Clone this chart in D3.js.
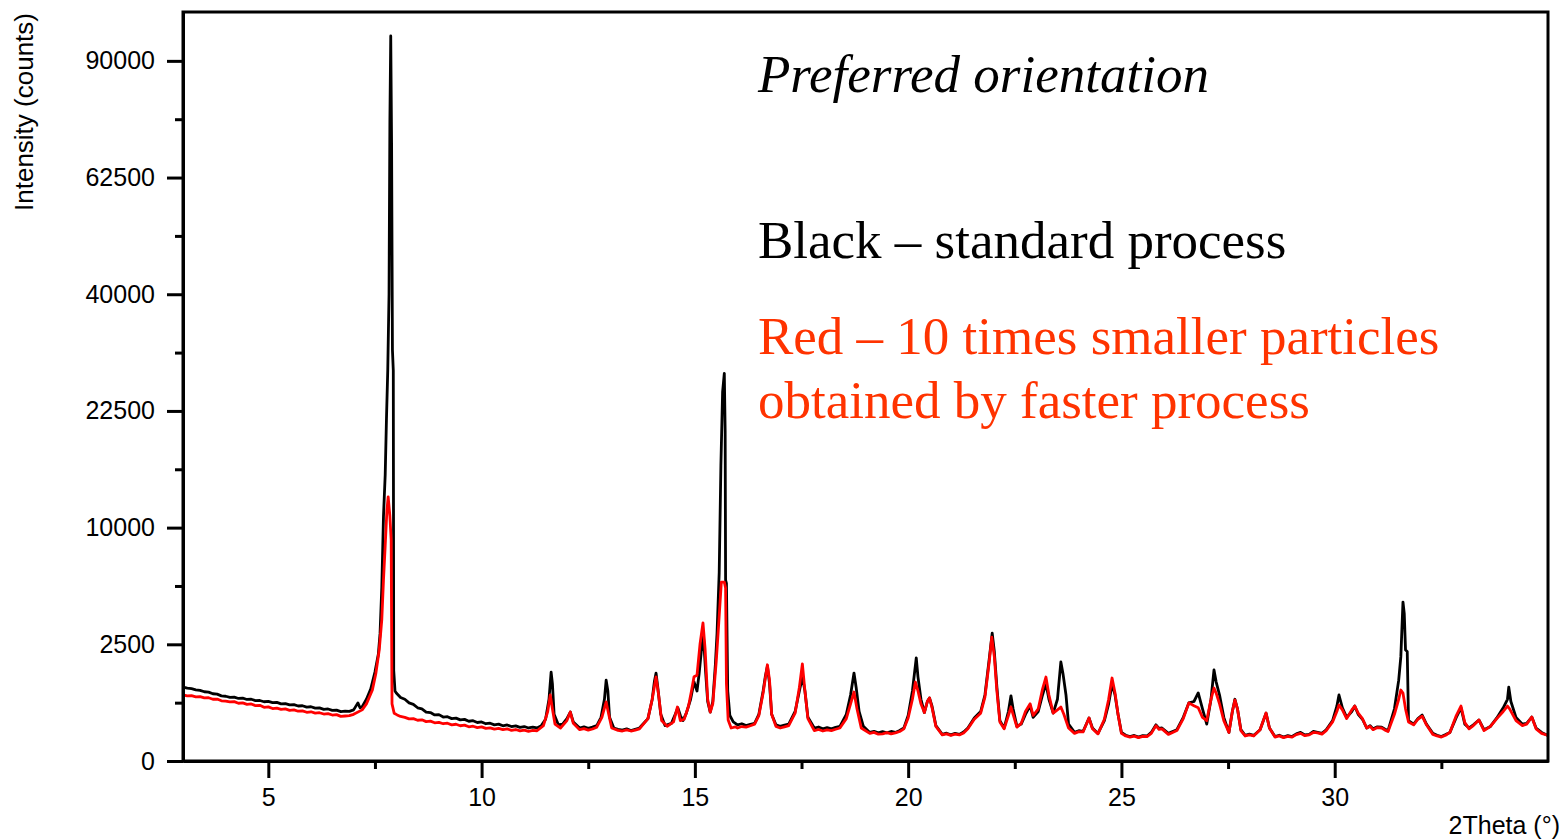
<!DOCTYPE html>
<html>
<head>
<meta charset="utf-8">
<script src="https://cdn.jsdelivr.net/npm/d3@7"></script>
<style>
  body { margin: 0; background: #fff; }
  .axis text { font-family: "Liberation Sans", Arial, sans-serif; font-size: 25px; fill: #000; }
  .axis path, .axis line { stroke: #000; stroke-width: 3; }
</style>
</head>
<body>
<div class="chartD3"></div>
<script>
// x-ray scan, [2theta, counts]
const blackScan = [
  [3.0,1005],[3.1,975],[3.2,960],[3.3,930],[3.4,915],[3.5,880],[3.6,870],[3.7,830],[3.8,820],[3.9,780],
  [4.0,770],[4.1,745],[4.2,750],[4.3,718],[4.4,725],[4.5,695],[4.6,700],[4.7,668],[4.8,672],[4.9,645],
  [5.0,652],[5.1,625],[5.2,632],[5.3,600],[5.4,606],[5.5,578],[5.6,585],[5.7,555],[5.8,560],[5.9,532],
  [6.0,540],[6.1,512],[6.2,518],[6.3,490],[6.4,497],[6.5,470],[6.6,475],[6.7,448],[6.8,455],[6.9,452],
  [7.0,480],[7.1,620],[7.15,520],[7.2,540],[7.3,700],[7.4,950],[7.5,1450],[7.58,2100],[7.62,3000],[7.66,5500],
  [7.70,11000],[7.74,15000],[7.77,21500],[7.80,28000],[7.83,40000],[7.85,75000],[7.87,96500],[7.89,70000],[7.91,31000],[7.93,28000],
  [7.94,1500],[7.97,900],[8.0,850],[8.1,740],[8.2,700],[8.3,620],[8.4,590],[8.5,520],[8.6,500],[8.7,440],
  [8.8,430],[8.9,390],[9.0,395],[9.1,355],[9.2,360],[9.3,330],[9.4,338],[9.5,310],[9.6,318],[9.7,290],
  [9.8,298],[9.9,272],[10.0,280],[10.1,255],[10.2,262],[10.3,240],[10.4,250],[10.5,228],[10.6,238],[10.7,218],
  [10.8,226],[10.9,208],[11.0,218],[11.1,200],[11.2,210],[11.3,200],[11.4,230],
  [11.5,320],[11.58,700],[11.63,1450],[11.66,1100],[11.70,400],[11.8,240],[11.9,250],[12.0,330],[12.08,440],[12.15,280],
  [12.3,200],[12.4,215],[12.5,195],[12.6,210],[12.7,230],[12.8,350],[12.88,700],[12.92,1200],[12.96,900],[13.0,350],[13.1,200],[13.2,185],[13.3,175],
  [13.4,190],[13.5,170],[13.6,185],[13.7,200],[13.9,330],[14.0,700],[14.05,1150],[14.09,1420],[14.13,1000],[14.2,400],[14.3,230],[14.45,260],
  [14.55,420],[14.6,520],[14.66,380],[14.72,300],[14.8,420],[14.9,700],[14.98,1150],[15.05,900],[15.1,1400],[15.15,2200],
  [15.2,2900],[15.25,1500],[15.3,650],[15.36,440],[15.42,650],[15.48,1700],[15.52,3000],[15.57,6500],[15.61,16000],[15.65,25000],
  [15.69,27600],[15.71,20000],[15.72,6000],[15.74,5800],[15.77,900],[15.82,380],[15.9,280],[16.0,240],[16.1,255],[16.2,230],[16.3,248],[16.4,260],
  [16.5,400],[16.6,900],[16.65,1300],[16.7,1650],[16.75,1100],[16.8,400],[16.9,240],[17.0,220],[17.1,238],[17.2,250],[17.35,450],
  [17.45,900],[17.52,1300],[17.58,900],[17.65,350],[17.8,200],[17.9,212],[18.0,190],[18.1,205],[18.2,190],[18.3,208],[18.4,220],[18.55,400],[18.65,800],
  [18.73,1420],[18.78,1000],[18.85,450],[18.95,220],[19.1,150],[19.2,162],[19.3,145],[19.4,158],[19.5,145],[19.6,160],[19.7,150],[19.8,170],[19.9,200],[20.0,380],[20.1,900],
  [20.19,1950],[20.23,1300],[20.3,700],[20.38,430],[20.45,650],[20.5,730],[20.56,550],[20.65,230],[20.8,130],[20.9,142],[21.0,125],
  [21.1,140],[21.2,130],[21.3,155],[21.4,200],[21.55,340],[21.7,450],[21.8,800],[21.9,1900],[21.97,3000],[22.02,2200],[22.08,1000],[22.15,300],
  [22.25,200],[22.35,450],[22.41,780],[22.46,500],[22.55,220],[22.65,250],[22.75,400],[22.86,560],[22.93,350],[23.05,450],
  [23.15,800],[23.23,1100],[23.3,700],[23.4,420],[23.5,700],[23.58,1800],[23.63,1400],[23.7,800],[23.76,250],[23.9,150],
  [24.0,168],[24.1,160],[24.24,340],[24.32,200],[24.45,140],[24.6,300],[24.7,600],[24.78,1080],[24.85,800],[24.92,400],[25.0,150],
  [25.1,122],[25.2,110],[25.3,120],[25.4,105],[25.5,118],[25.6,115],[25.7,150],[25.81,240],[25.88,195],[25.95,200],[26.1,140],[26.2,160],[26.3,180],[26.45,350],[26.58,620],[26.7,650],
  [26.8,850],[26.9,500],[27.0,250],[27.1,700],[27.17,1520],[27.22,1150],[27.3,800],[27.4,350],[27.52,150],[27.6,450],
  [27.66,700],[27.72,500],[27.8,180],[27.9,120],[28.0,132],[28.1,120],[28.25,180],[28.39,420],[28.47,200],[28.6,110],[28.7,122],[28.8,105],
  [28.9,118],[29.0,110],[29.1,135],[29.2,150],[29.3,125],[29.4,130],[29.5,160],[29.6,150],[29.7,140],[29.8,180],[29.95,300],[30.05,550],[30.1,800],[30.18,520],[30.28,350],
  [30.4,450],[30.47,555],[30.55,400],[30.65,320],[30.75,200],[30.83,230],[30.9,190],[31.0,215],[31.1,210],[31.18,185],[31.25,170],[31.4,500],[31.5,1200],
  [31.55,2000],[31.6,4640],[31.63,4000],[31.66,2260],[31.7,2200],[31.73,300],[31.85,250],[31.95,330],[32.05,388],[32.15,250],
  [32.3,140],[32.4,122],[32.5,110],[32.6,128],[32.7,150],[32.85,350],[32.96,520],[33.05,250],[33.15,200],[33.25,240],[33.38,309],[33.5,180],
  [33.65,220],[33.8,340],[33.95,520],[34.05,700],[34.08,1000],[34.13,650],[34.25,350],[34.4,250],[34.5,260],[34.62,355],
  [34.72,200],[34.85,150],[35.0,120]
]

const redScan = [
  [3.0,800],[3.1,780],[3.2,785],[3.3,755],[3.4,760],[3.5,730],[3.6,735],[3.7,700],[3.8,705],[3.9,665],
  [4.0,660],[4.1,640],[4.2,648],[4.3,612],[4.4,620],[4.5,590],[4.6,598],[4.7,562],[4.8,570],[4.9,530],
  [5.0,538],[5.1,505],[5.2,515],[5.3,490],[5.4,498],[5.5,470],[5.6,480],[5.7,455],[5.8,462],[5.9,436],
  [6.0,445],[6.1,420],[6.2,428],[6.3,405],[6.4,412],[6.5,388],[6.6,395],[6.7,365],[6.8,372],[6.9,378],
  [7.0,400],[7.2,480],[7.3,600],[7.44,925],[7.52,1400],[7.6,2260],[7.66,3650],[7.7,6000],[7.74,8500],[7.78,11500],
  [7.81,12800],[7.85,11000],[7.88,9000],[7.90,600],[7.95,420],[8.02,390],[8.1,365],[8.2,350],[8.3,325],[8.4,330],
  [8.5,305],[8.6,312],[8.7,285],[8.8,292],[8.9,268],[9.0,275],[9.1,255],[9.2,262],[9.3,240],[9.4,248],
  [9.5,228],[9.6,236],[9.7,215],[9.8,222],[9.9,205],[10.0,214],[10.1,195],[10.2,202],[10.3,186],[10.4,195],
  [10.5,180],[10.6,190],[10.7,172],[10.8,182],[10.9,166],[11.0,176],[11.1,162],[11.2,172],[11.3,168],
  [11.45,230],[11.55,450],[11.61,800],[11.66,500],
  [11.72,250],[11.85,200],[12.0,300],[12.08,440],[12.15,260],[12.3,180],[12.4,192],[12.5,175],[12.6,188],[12.7,210],[12.82,350],[12.92,640],
  [12.98,400],[13.05,200],[13.2,172],[13.3,165],[13.4,178],[13.5,165],[13.6,176],[13.7,190],[13.9,330],[14.0,700],[14.09,1300],[14.15,800],[14.22,300],
  [14.35,220],[14.5,280],[14.59,535],[14.66,300],[14.75,320],[14.85,550],[14.92,900],[14.98,1300],[15.05,1350],[15.12,2500],
  [15.19,3500],[15.24,2300],[15.3,700],[15.36,440],[15.42,600],[15.5,1800],[15.56,3500],[15.6,5000],[15.62,5880],[15.69,5880],
  [15.72,5500],[15.74,1100],[15.78,310],[15.85,200],[15.95,215],[16.0,200],[16.1,218],[16.2,210],[16.3,228],[16.4,250],[16.5,380],[16.6,850],[16.7,1700],
  [16.75,1200],[16.8,400],[16.9,220],[17.0,200],[17.1,215],[17.2,230],[17.35,420],[17.45,1000],[17.52,1730],[17.58,900],[17.65,330],
  [17.8,170],[17.9,182],[18.0,165],[18.1,178],[18.2,170],[18.3,185],[18.4,200],[18.55,330],[18.65,600],[18.73,874],[18.8,500],[18.9,200],[19.1,140],
  [19.2,150],[19.3,132],[19.4,135],[19.5,148],[19.6,136],[19.7,145],[19.8,160],[19.9,190],[20.0,340],[20.1,700],[20.17,1145],[20.23,900],[20.3,600],[20.38,430],[20.45,650],
  [20.5,730],[20.56,520],[20.65,220],[20.8,125],[20.9,135],[21.0,120],[21.1,132],[21.2,125],[21.3,145],[21.4,190],[21.55,320],[21.7,420],[21.8,750],
  [21.9,1800],[21.96,2820],[22.02,2000],[22.08,900],[22.15,280],[22.25,190],[22.35,380],[22.41,535],[22.46,400],[22.55,210],
  [22.65,260],[22.75,450],[22.86,600],[22.93,380],[23.05,500],[23.15,950],[23.23,1295],[23.3,800],[23.4,420],[23.5,480],
  [23.58,535],[23.65,400],[23.76,200],[23.9,140],[24.0,158],[24.1,155],[24.24,340],[24.32,190],[24.45,135],[24.6,320],[24.7,700],
  [24.78,1264],[24.85,850],[24.92,400],[25.0,140],[25.1,115],[25.2,105],[25.3,114],[25.4,100],[25.5,112],[25.6,110],[25.7,140],[25.81,230],[25.88,185],[25.95,190],[26.1,130],
  [26.2,150],[26.3,170],[26.45,330],[26.58,620],[26.7,560],[26.8,520],[26.9,350],[27.0,300],[27.1,700],[27.17,978],[27.22,850],
  [27.3,600],[27.4,300],[27.52,150],[27.6,450],[27.66,683],[27.72,500],[27.8,170],[27.9,115],[28.0,126],[28.1,115],[28.25,180],
  [28.39,423],[28.47,200],[28.6,105],[28.7,116],[28.8,100],[28.9,112],[29.0,105],[29.1,128],[29.2,140],[29.3,118],[29.4,125],[29.5,150],[29.6,145],[29.7,132],[29.8,170],[29.95,280],
  [30.05,450],[30.1,575],[30.18,480],[30.28,330],[30.4,480],[30.47,555],[30.55,420],[30.65,330],[30.75,200],[30.83,220],[30.9,180],
  [31.0,205],[31.1,200],[31.18,175],[31.25,160],[31.4,400],[31.5,700],[31.55,925],[31.6,850],[31.66,500],[31.73,280],[31.85,240],[31.95,320],
  [32.05,370],[32.15,240],[32.3,130],[32.4,115],[32.5,105],[32.6,122],[32.7,150],[32.85,380],[32.96,555],[33.05,270],[33.15,190],[33.25,230],
  [33.38,309],[33.5,170],[33.65,220],[33.8,330],[33.95,450],[34.05,555],[34.1,500],[34.25,300],[34.4,230],[34.5,250],
  [34.62,355],[34.72,190],[34.85,140],[35.0,120]
]

const xMajorTicks = [5, 10, 15, 20, 25, 30]
const xMinorTicks = [7.5, 12.5, 17.5, 22.5, 27.5, 32.5]
const yMajorTicks = [0, 2500, 10000, 22500, 40000, 62500, 90000]
const yMinorTicks = [625, 5625, 15625, 30625, 50625, 75625]

const notes = [
  {text: 'Preferred orientation', color: '#000', italic: true},
  {text: 'Black \u2013 standard process', color: '#000', italic: false},
  {text: 'Red \u2013 10 times smaller particles', color: '#ff3300', italic: false},
  {text: 'obtained by faster process', color: '#ff3300', italic: false}
]
const noteBaselines = [92, 258, 354, 418]

let margin = {top: 12, right: 16, bottom: 78, left: 183}
let width = 1564 - margin.left - margin.right
let height = 839 - margin.top - margin.bottom

let svg = d3.select('.chartD3').append('svg')
    .attr('width', 1564)
    .attr('height', 839)

let chart = svg.append('g')
    .attr('transform', 'translate(' + margin.left + ',' + margin.top + ')')

let x = d3.scaleLinear()
    .domain([3, 35])
    .range([0, width])

// counts axis is square-root spaced (0, 50², 100², ... 300²)
let y = d3.scaleSqrt()
    .domain([0, 103000])
    .range([height, 0])

chart.append('defs').append('clipPath')
    .attr('id', 'plot-clip')
    .append('rect')
    .attr('width', width)
    .attr('height', height)

let line = d3.line()
    .x(d => x(d[0]))
    .y(d => y(d[1]))

let plot = chart.append('g').attr('clip-path', 'url(#plot-clip)')

plot.append('path')
    .datum(blackScan)
    .attr('fill', 'none')
    .attr('stroke', '#000')
    .attr('stroke-width', 2.8)
    .attr('stroke-linejoin', 'round')
    .attr('d', line)

plot.append('path')
    .datum(redScan)
    .attr('fill', 'none')
    .attr('stroke', '#ff0000')
    .attr('stroke-width', 2.8)
    .attr('stroke-linejoin', 'round')
    .attr('d', line)

// axes
chart.append('g')
    .attr('class', 'axis')
    .attr('transform', 'translate(0,' + height + ')')
    .call(d3.axisBottom(x).tickValues(xMajorTicks).tickSize(17).tickSizeOuter(0).tickPadding(10).tickFormat(d3.format('d')))

chart.append('g')
    .attr('class', 'axis')
    .attr('transform', 'translate(0,' + height + ')')
    .call(d3.axisBottom(x).tickValues(xMinorTicks).tickSize(8).tickSizeOuter(0).tickFormat(''))

chart.append('g')
    .attr('class', 'axis')
    .call(d3.axisLeft(y).tickValues(yMajorTicks).tickSize(16).tickSizeOuter(0).tickPadding(12).tickFormat(d3.format('d')))

chart.append('g')
    .attr('class', 'axis')
    .call(d3.axisLeft(y).tickValues(yMinorTicks).tickSize(8).tickSizeOuter(0).tickFormat(''))

// frame
chart.append('rect')
    .attr('width', width)
    .attr('height', height)
    .attr('fill', 'none')
    .attr('stroke', '#000')
    .attr('stroke-width', 3)

// axis titles
svg.append('text')
    .attr('transform', 'translate(33,13) rotate(-90)')
    .attr('text-anchor', 'end')
    .style('font-family', '"Liberation Sans", Arial, sans-serif')
    .style('font-size', '26px')
    .text('Intensity (counts)')

svg.append('text')
    .attr('x', 1560)
    .attr('y', 834)
    .attr('text-anchor', 'end')
    .style('font-family', '"Liberation Sans", Arial, sans-serif')
    .style('font-size', '25px')
    .text('2Theta (\u00b0)')

// annotations
svg.selectAll('.note')
    .data(notes)
    .enter()
    .append('text')
    .attr('class', 'note')
    .attr('x', 758)
    .attr('y', (d, i) => noteBaselines[i])
    .attr('fill', d => d.color)
    .style('font-family', '"Liberation Serif", "Times New Roman", serif')
    .style('font-size', '53px')
    .style('font-style', d => d.italic ? 'italic' : 'normal')
    .text(d => d.text)
</script>
</body>
</html>
